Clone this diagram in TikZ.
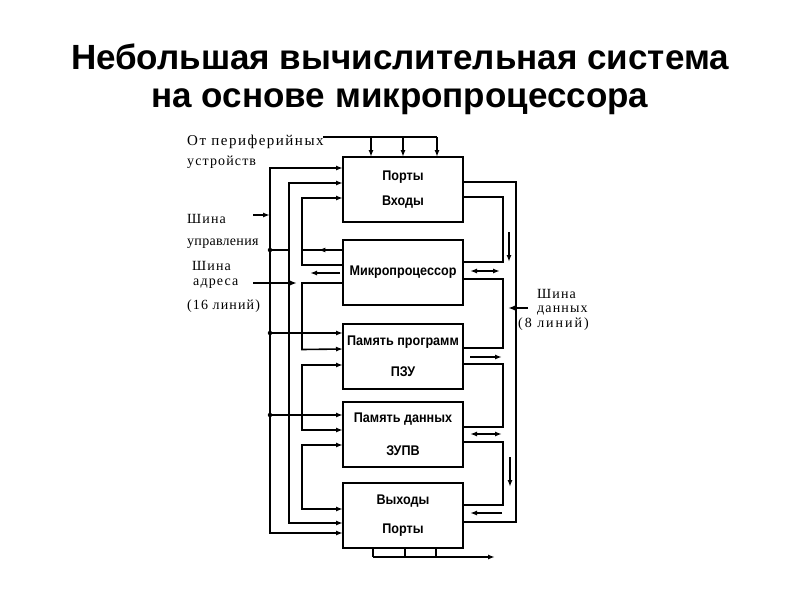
\documentclass[tikz,border=0pt]{standalone}
\usepackage{fontspec}
\setmainfont{Liberation Serif}[LetterSpace=8]
\newfontfamily\titlefont{Liberation Sans}
\newfontfamily\boxfont[FakeStretch=0.9]{Liberation Sans}
\usetikzlibrary{arrows.meta,calc,decorations.markings}

\begin{document}
\begin{tikzpicture}[x=1pt, y=-1pt,
    box/.style={rectangle, draw, line width=2pt, outer sep=0pt, minimum width=120pt, minimum height=65pt, inner sep=0pt, font=\boxfont\bfseries\fontsize{14}{25}\selectfont, align=center},
    lbl/.style={anchor=base west, inner sep=0pt, font=\fontsize{14}{14}\selectfont},
    bus/.style={line width=1.6pt},
    arrow/.style={bus, ->, >={Latex[length=7pt,width=5pt]}},
    twoway/.style={bus, <->, >={Latex[length=7pt,width=5pt]}},
    midarrow/.style={bus, postaction={decorate}, decoration={markings, mark=at position 0.6 with {\arrow[line width=1.6pt]{Latex[length=7pt,width=5pt]}}}},
    dot/.style={circle, fill, inner sep=0pt, minimum size=4.5pt}
]
    \useasboundingbox (0,0) rectangle (800,600);

    % Title
    \node[font=\titlefont\bfseries\fontsize{35}{38}\selectfont, align=center] (title) at (400,79) {Небольшая вычислительная система\\на основе микропроцессора};

    % Blocks
    \node[box] (inports) at (403,189.5) {Порты\\Входы};
    \node[box] (mp) at (403,272) {Микропроцессор};
    \node[box] (rom) at (403,356) {Память программ\\[6pt]ПЗУ};
    \node[box] (ram) at (403,434) {Память данных\\[8pt]ЗУПВ};
    \node[box] (outports) at (403,515.5) {Выходы\\[4pt]Порты};

    % Labels
    \node[lbl, font=\fontsize{15}{15}\selectfont\addfontfeatures{LetterSpace=10}] (periph1) at (187,145) {От периферийных};
    \node[lbl] (periph2) at (187,165) {устройств};
    \node[lbl] (ctl1) at (187,223) {Шина};
    \node[lbl, font=\fontsize{14}{14}\selectfont\addfontfeatures{LetterSpace=2}] (ctl2) at (187,245) {управления};
    \node[lbl] (adr1) at (192,270) {Шина};
    \node[lbl] (adr2) at (193,285) {адреса};
    \node[lbl] (adr3) at (187,309) {(16 линий)};
    \node[lbl] (dat1) at (537,298) {Шина};
    \node[lbl] (dat2) at (537,312.5) {данных};
    \node[lbl, font=\fontsize{14}{14}\selectfont\addfontfeatures{LetterSpace=14}] (dat3) at (518,327) {(8 линий)};

    % Input from peripherals
    \draw[bus] (323,137) -- (437,137);
    \foreach \x in {371,403,437}
        \draw[arrow] (\x,137) -- (\x,157);

    % Output to peripherals
    \foreach \x in {373,405,436}
        \draw[bus] (\x,548) -- (\x,557);
    \draw[arrow] (373,557) -- (495,557);

    % Control bus
    \draw[arrow] (253,215) -- (270,215);
    \draw[twoway] ($(inports.north west)+(0,11)$) -| (270,533) -- ($(outports.north west)+(0,50)$);
    \draw[twoway] ($(inports.north west)+(0,26)$) -| (289,523) -- ($(outports.north west)+(0,40)$);
    \node[dot] (j1) at (270,250) {};
    \node[dot] (j2) at (270,333) {};
    \node[dot] (j3) at (270,415) {};
    \draw[bus] (j1.center) -- (289,250);
    \draw[arrow] (j2.center) -- ($(rom.north west)+(0,9.5)$);
    \draw[arrow] (j3.center) -- ($(ram.north west)+(0,13.5)$);
    \draw[midarrow] ($(mp.north west)+(0,10.5)$) -- (302,250);
    \draw[arrow] ($(mp.north west)+(0,25.5)$) -| (302,198) -- ($(inports.north west)+(0,41)$);
    \draw[arrow] (340,273) -- (310,273);

    % Address bus
    \draw[arrow] (253,283) -- (297,283);
    \draw[arrow] ($(mp.north west)+(0,43.5)$) -| (302,349.5) -- ($(rom.north west)+(0,25.5)$);
    \draw[twoway] ($(rom.north west)+(0,41.5)$) -| (302,430) -- ($(ram.north west)+(0,28.5)$);
    \draw[twoway] ($(ram.north west)+(0,43.5)$) -| (302,509) -- ($(outports.north west)+(0,26)$);

    % Data bus
    \draw[arrow] (528,308) -- (508,308);
    \draw[bus] ($(inports.north east)+(0,25)$) -| (516,522) -- ($(outports.north east)+(0,39)$);
    \draw[bus] ($(inports.north east)+(0,40)$) -| (503,262) -- ($(mp.north east)+(0,22.5)$);
    \draw[arrow] (509,232) -- (509,262);
    \draw[twoway] (470,271) -- (500,271);
    \draw[bus] ($(mp.north east)+(0,39.5)$) -| (503,348) -- ($(rom.north east)+(0,24.5)$);
    \draw[arrow] (470,357) -- (502,357);
    \draw[bus] ($(rom.north east)+(0,40.5)$) -| (503,427) -- ($(ram.north east)+(0,25.5)$);
    \draw[twoway] (470,434) -- (502,434);
    \draw[bus] ($(ram.north east)+(0,40.5)$) -| (503,505) -- ($(outports.north east)+(0,22)$);
    \draw[arrow] (510,457) -- (510,487);
    \draw[arrow] (502,513) -- (470,513);

\end{tikzpicture}
\end{document}
